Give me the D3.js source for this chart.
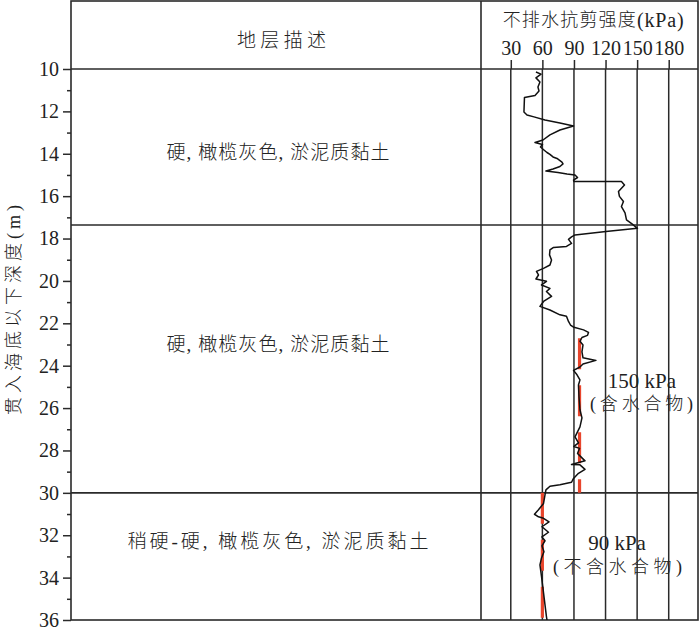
<!DOCTYPE html>
<html>
<head>
<meta charset="utf-8">
<script src="https://cdn.jsdelivr.net/npm/d3@7"></script>
<style>
  body { margin: 0; background: #fff; }
  text { font-family: "Liberation Serif", "Noto Sans CJK SC", serif; fill: #222; }
  .cjk { font-weight: 300; }
</style>
</head>
<body>
<div id="main"></div>
<script>
// depth below seabed (m) and undrained shear strength (kPa)
const depths = [10.14, 10.24, 10.42, 10.61, 10.85, 11.04, 11.25, 11.34, 12.03, 12.17,
  12.26, 12.41, 12.55, 12.69, 12.88, 13.11, 13.35, 13.47, 13.56, 13.68,
  13.82, 13.94, 14.03, 14.15, 14.22, 14.39, 14.48, 14.6, 14.72, 14.81,
  14.88, 14.95, 15.0, 15.12, 15.24, 15.31, 15.31, 15.47, 15.78, 16.01,
  16.25, 16.49, 16.79, 17.12, 17.31, 17.52, 17.67, 17.83, 17.92, 18.04,
  18.23, 18.37, 18.42, 18.54, 18.77, 19.01, 19.25, 19.41, 19.55, 19.72,
  19.91, 20.02, 20.19, 20.35, 20.5, 20.73, 20.97, 21.2, 21.37, 21.6,
  21.67, 21.91, 22.08, 22.19, 22.31, 22.43, 22.57, 22.67, 22.85, 23.02,
  23.35, 23.63, 23.75, 23.92, 24.06, 24.22, 24.43, 24.67, 24.91, 25.47,
  26.08, 26.46, 26.89, 27.36, 27.64, 27.81, 27.9, 28.14, 28.35, 28.49,
  28.66, 28.68, 28.89, 29.08, 29.32, 29.5, 29.62, 29.69, 29.86, 30.09,
  30.5, 30.8, 31.01, 31.13, 31.2, 31.37, 31.6, 31.86, 32.08, 32.26,
  32.5, 32.78, 33.07, 33.4, 33.96, 34.72, 35.85, 36.0];
const strengths = [53.9, 58.7, 53.9, 57.7, 55.8, 56.8, 53.0, 43.0, 42.5, 45.4,
  52.0, 62.5, 76.7, 89.6, 76.7, 67.2, 60.6, 53.0, 60.1, 58.2,
  61.5, 64.4, 67.2, 70.1, 73.9, 78.6, 79.6, 76.7, 70.1, 63.4,
  74.8, 83.4, 91.0, 93.4, 89.6, 90.0, 135.1, 138.0, 132.3, 133.2,
  137.0, 135.1, 138.5, 139.9, 145.1, 150.3, 120.4, 91.0, 87.7, 84.8,
  87.7, 82.9, 70.6, 67.2, 66.8, 68.7, 67.2, 61.1, 54.4, 56.3,
  53.9, 63.9, 59.2, 67.2, 63.9, 68.7, 61.1, 57.7, 67.2, 76.7,
  82.9, 84.8, 86.7, 90.0, 99.1, 103.8, 102.8, 97.6, 95.7, 98.6,
  97.6, 98.6, 110.9, 98.6, 95.7, 89.6, 92.9, 95.7, 94.3, 94.8,
  95.7, 97.6, 95.7, 91.0, 94.3, 90.0, 95.3, 93.4, 97.6, 100.5,
  87.7, 95.7, 100.5, 94.3, 89.6, 87.7, 76.7, 67.2, 63.4, 62.5,
  61.1, 56.3, 52.5, 56.3, 61.1, 66.3, 59.6, 65.8, 59.6, 62.5,
  59.6, 61.5, 59.2, 57.7, 59.2, 61.1, 63.9, 64.4];

// soil layers
const layerTop = [10, 17.36, 30];
const layerBottom = [17.36, 30, 36];
const layerNames = ["硬, 橄榄灰色, 淤泥质黏土", "硬, 橄榄灰色, 淤泥质黏土", "稍硬-硬, 橄榄灰色, 淤泥质黏土"];

// reference strength lines (red dashed)
const refStrength = [95.3, 60];
const refFrom = [22.7, 30];
const refTo = [30, 36];
const refLabels = [["150 kPa", "(含水合物)"], ["90 kPa", "(不含水合物)"]];

const strengthTicks = [30, 60, 90, 120, 150, 180];
const depthTicks = [10, 12, 14, 16, 18, 20, 22, 24, 26, 28, 30, 32, 34, 36];
const depthMinorTicks = [11, 13, 15, 17, 19, 21, 23, 25, 27, 29, 31, 33, 35];

const ctx = {
    w: 700,
    h: 627,
    left: 71,
    right: 698,
    top: 1,
    headerBottom: 69,
    bottom: 620,
    divider: 481,
    lineColor: "#2a2a2a",
    red: "#e8452c"
};

function createViz() {
    let svg = d3.select("#main").append("svg")
        .attr("width", ctx.w)
        .attr("height", ctx.h);

    let y = d3.scaleLinear().domain([10, 36]).range([ctx.headerBottom, ctx.bottom]);
    let x = d3.scaleLinear().domain([0, 210]).range([479.2, 700.3]);

    let frameG = svg.append("g").attr("id", "frameG");
    let plotG = svg.append("g").attr("id", "plotG");
    let textG = svg.append("g").attr("id", "textG");

    // vertical strength grid lines (through the header ticks down to the bottom)
    frameG.selectAll("line.grid")
        .data(strengthTicks)
        .enter()
        .append("line")
            .attr("class", "grid")
            .attr("x1", (d) => x(d))
            .attr("x2", (d) => x(d))
            .attr("y1", ctx.headerBottom)
            .attr("y2", ctx.bottom)
            .attr("stroke", ctx.lineColor)
            .attr("stroke-width", 1.5);

    // top axis: ticks + labels
    let xAxis = d3.axisTop(x).tickValues(strengthTicks).tickSize(9).tickPadding(5);
    frameG.append("g")
        .attr("transform", "translate(0," + ctx.headerBottom + ")")
        .call(xAxis)
        .call((g) => g.select(".domain").remove())
        .call((g) => g.selectAll(".tick line").attr("stroke", ctx.lineColor).attr("stroke-width", 1.5))
        .call((g) => g.selectAll(".tick text")
            .attr("font-family", "Liberation Serif")
            .attr("font-size", 20)
            .attr("fill", "#222"));

    // left depth axis
    let yAxis = d3.axisLeft(y).tickValues(depthTicks).tickSize(8).tickPadding(4);
    frameG.append("g")
        .attr("transform", "translate(" + ctx.left + ",0)")
        .call(yAxis)
        .call((g) => g.select(".domain").remove())
        .call((g) => g.selectAll(".tick line").attr("stroke", ctx.lineColor).attr("stroke-width", 1.5))
        .call((g) => g.selectAll(".tick text")
            .attr("font-family", "Liberation Serif")
            .attr("font-size", 20)
            .attr("fill", "#222"));
    let yMinor = d3.axisLeft(y).tickValues(depthMinorTicks).tickSize(4).tickFormat("");
    frameG.append("g")
        .attr("transform", "translate(" + ctx.left + ",0)")
        .call(yMinor)
        .call((g) => g.select(".domain").remove())
        .call((g) => g.selectAll(".tick line").attr("stroke", ctx.lineColor).attr("stroke-width", 1.5));

    // outer frame, header line, column divider
    frameG.append("rect")
        .attr("x", ctx.left)
        .attr("y", ctx.top)
        .attr("width", ctx.right - ctx.left)
        .attr("height", ctx.bottom - ctx.top)
        .attr("fill", "none")
        .attr("stroke", ctx.lineColor)
        .attr("stroke-width", 1.6);
    frameG.append("line")
        .attr("x1", ctx.left).attr("x2", ctx.right)
        .attr("y1", ctx.headerBottom).attr("y2", ctx.headerBottom)
        .attr("stroke", ctx.lineColor).attr("stroke-width", 1.6);
    frameG.append("line")
        .attr("x1", ctx.divider).attr("x2", ctx.divider)
        .attr("y1", ctx.top).attr("y2", ctx.bottom)
        .attr("stroke", ctx.lineColor).attr("stroke-width", 1.6);

    // layer boundaries
    frameG.selectAll("line.layer")
        .data(layerBottom.slice(0, layerBottom.length - 1))
        .enter()
        .append("line")
            .attr("class", "layer")
            .attr("x1", ctx.left).attr("x2", ctx.right)
            .attr("y1", (d) => y(d)).attr("y2", (d) => y(d))
            .attr("stroke", ctx.lineColor).attr("stroke-width", 1.6);

    // reference lines
    plotG.selectAll("line.ref")
        .data(refStrength)
        .enter()
        .append("line")
            .attr("class", "ref")
            .attr("x1", (d) => x(d)).attr("x2", (d) => x(d))
            .attr("y1", (d, i) => y(refFrom[i]))
            .attr("y2", (d, i) => y(refTo[i]))
            .attr("stroke", ctx.red)
            .attr("stroke-width", 3.2)
            .attr("stroke-dasharray", "31,16");

    // strength profile
    let profile = depths.map((d, i) => [strengths[i], d]);
    let line = d3.line()
        .x((d) => x(d[0]))
        .y((d) => y(d[1]));
    plotG.append("path")
        .datum(profile)
        .attr("d", line)
        .attr("fill", "none")
        .attr("stroke", "#111")
        .attr("stroke-width", 1.5)
        .attr("stroke-linejoin", "round");

    // texts
    function label(txt, cx, cy, size, len, cls) {
        let t = textG.append("text")
            .attr("x", cx)
            .attr("y", cy)
            .attr("text-anchor", "middle")
            .attr("dominant-baseline", "central")
            .attr("font-size", size)
            .text(txt);
        if (cls) t.attr("class", cls);
        if (len) t.attr("textLength", len).attr("lengthAdjust", "spacing");
        return t;
    }
    label("地层描述", 281.5, 40, 19, 89, "cjk");

    // header: CJK part spaced, unit part plain
    let head = textG.append("text")
        .attr("x", 593.5)
        .attr("y", 20)
        .attr("text-anchor", "middle")
        .attr("dominant-baseline", "central")
        .attr("font-size", 18);
    head.append("tspan").attr("class", "cjk").attr("letter-spacing", 1.2).text("不排水抗剪强度");
    head.append("tspan").attr("font-size", 20).attr("letter-spacing", 0.8).text("(kPa)");

    let layerLabelDepth = [13.96, 23.0, 32.3];
    let layerLabelLen = [223, 223, 301];
    layerNames.forEach((n, i) => {
        label(n, 278, y(layerLabelDepth[i]), 19, layerLabelLen[i], "cjk");
    });

    // reference annotations
    label(refLabels[0][0], x(154.6), y(24.72), 21);
    label(refLabels[0][1], x(154.2), y(25.8), 18, 103, "cjk");
    label(refLabels[1][0], x(130.9), y(32.36), 21);
    label(refLabels[1][1], x(131.4), y(33.49), 18, 129, "cjk");

    // y axis title
    textG.append("text")
        .attr("class", "cjk")
        .attr("transform", "translate(14,310) rotate(-90)")
        .attr("text-anchor", "middle")
        .attr("dominant-baseline", "central")
        .attr("font-size", 18)
        .attr("textLength", 210)
        .attr("lengthAdjust", "spacing")
        .text("贯入海底以下深度(m)");
}

createViz();
</script>
</body>
</html>
